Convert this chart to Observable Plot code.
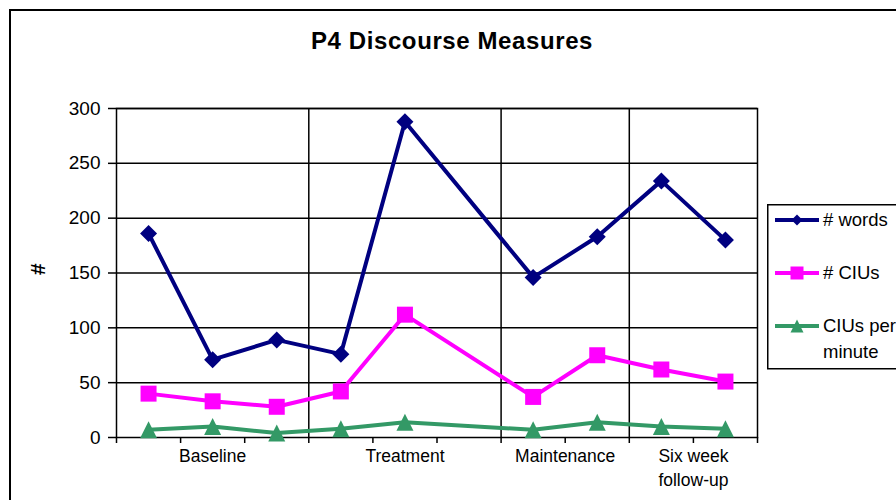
<!DOCTYPE html>
<html>
<head>
<meta charset="utf-8">
<script src="https://cdn.jsdelivr.net/npm/d3@7"></script>
<script src="https://cdn.jsdelivr.net/npm/@observablehq/plot@0.6"></script>
<style>
html, body { margin: 0; padding: 0; background: #fff; overflow: hidden; }
#wrap { position: relative; width: 896px; height: 500px; overflow: hidden; font-family: "Liberation Sans", Arial, sans-serif; color: #000; }
#border { position: absolute; left: 9px; top: 9px; width: 1000px; height: 600px; border: 2px solid #000; box-sizing: border-box; }
#title { position: absolute; left: 0; top: 29px; width: 904px; text-align: center; font-weight: bold; font-size: 24px; letter-spacing: 0.6px; line-height: 1; }
#chart { position: absolute; left: 0; top: 0; }
#legend { position: absolute; left: 767px; top: 204px; }
</style>
</head>
<body>
<div id="wrap">
  <div id="border"></div>
  <div id="title">P4 Discourse Measures</div>
  <div id="chart"></div>
  <div id="legend"></div>
</div>
<script>
// ---- data ----
const sessionCount = 10;
const phaseNames = ["Baseline", "Treatment", "Maintenance", "Six week\nfollow-up"];
const phaseSessions = [3, 3, 2, 2];
const words = [186, 71, 89, 76, 288, null, 146, 183, 234, 180];
const cius = [40, 33, 28, 42, 112, null, 37, 75, 62, 51];
const ciusPerMinute = [7, 10, 4, 8, 14, null, 7, 14, 10, 8];
const seriesNames = ["# words", "# CIUs", "CIUs per minute"];
const seriesColors = ["#000080", "#FF00FF", "#339966"];
const yTicks = [0, 50, 100, 150, 200, 250, 300];
const yLabel = "#";

// ---- derived tables ----
const seriesValues = [words, cius, ciusPerMinute];
const rows = [];
seriesValues.forEach((vals, s) => vals.forEach((v, i) => {
  if (v != null) rows.push({series: seriesNames[s], x: i + 0.5, y: v});
}));
const bounds = [0];
phaseSessions.forEach(n => bounds.push(bounds[bounds.length - 1] + n));
const phases = phaseNames.map((name, i) => ({name, mid: (bounds[i] + bounds[i + 1]) / 2}));
const innerBounds = bounds.slice(1, -1);

// ---- Excel-like marker shapes ----
const half = size => Math.sqrt(size / Math.PI);
const excelDiamond = {draw(ctx, size) { const h = half(size); ctx.moveTo(0, -h); ctx.lineTo(h, 0); ctx.lineTo(0, h); ctx.lineTo(-h, 0); ctx.closePath(); }};
const excelSquare = {draw(ctx, size) { const h = half(size); ctx.rect(-h, -h, 2 * h, 2 * h); }};
const excelTriangle = {draw(ctx, size) { const h = half(size); ctx.moveTo(0, -h); ctx.lineTo(h, h); ctx.lineTo(-h, h); ctx.closePath(); }};
const seriesSymbols = [excelDiamond, excelSquare, excelTriangle];
const seriesR = [8.5, 8, 8.5];

const seriesMarks = [];
seriesNames.forEach((name, s) => {
  const d = rows.filter(r => r.series === name);
  seriesMarks.push(Plot.line(d, {x: "x", y: "y", stroke: seriesColors[s], strokeWidth: 4, strokeLinejoin: "miter"}));
});
seriesNames.forEach((name, s) => {
  const d = rows.filter(r => r.series === name);
  seriesMarks.push(Plot.dot(d, {x: "x", y: "y", fill: seriesColors[s], stroke: "none", symbol: seriesSymbols[s], r: seriesR[s]}));
});

const chart = Plot.plot({
  width: 896,
  height: 500,
  marginLeft: 116,
  marginRight: 139,
  marginTop: 108,
  marginBottom: 63,
  style: {fontFamily: "'Liberation Sans', Arial, sans-serif", fontSize: "17px", color: "#000", background: "transparent", overflow: "visible"},
  x: {domain: [0, sessionCount]},
  y: {domain: [yTicks[0], yTicks[yTicks.length - 1]]},
  marks: [
    Plot.gridY(yTicks.slice(1), {stroke: "#000", strokeOpacity: 1, strokeWidth: 1.5}),
    Plot.ruleX(innerBounds, {y1: yTicks[0], y2: yTicks[yTicks.length - 1], stroke: "#000", strokeWidth: 1.5}),
    Plot.frame({stroke: "#000", strokeWidth: 1.5}),
    Plot.axisY({ticks: yTicks, tickSize: 8, tickPadding: 8, fontSize: 19, label: null, strokeWidth: 1.5}),
    Plot.axisX({ticks: d3.range(0, sessionCount + 1), tickSize: 6, tickFormat: () => "", label: null, strokeWidth: 1.5}),
    Plot.text(phases, {x: "mid", y: yTicks[0], text: "name", lineAnchor: "top", dy: 8, fontSize: 17.5, lineHeight: 1.35}),
    Plot.text([yLabel], {frameAnchor: "left", dx: -78, dy: 2, rotate: -90, fontWeight: "bold", fontSize: 21}),
    ...seriesMarks
  ]
});
document.getElementById("chart").appendChild(chart);

// ---- legend ----
const lg = d3.select("#legend").append("svg").attr("width", 140).attr("height", 170)
  .style("font-family", "'Liberation Sans', Arial, sans-serif").style("font-size", "18.5px");
lg.append("rect").attr("x", 0.75).attr("y", 0.75).attr("width", 200).attr("height", 164)
  .attr("fill", "#fff").attr("stroke", "#000").attr("stroke-width", 1.5);
const legendY = [16, 69, 122];
const legendSizes = [5.5, 6.5, 6.5];
seriesNames.forEach((name, s) => {
  const g = lg.append("g").attr("transform", `translate(0,${legendY[s]})`);
  g.append("line").attr("x1", 8).attr("x2", 52).attr("y1", 0).attr("y2", 0)
    .attr("stroke", seriesColors[s]).attr("stroke-width", 4);
  g.append("path").attr("transform", "translate(30,0)")
    .attr("d", d3.symbol(seriesSymbols[s], Math.PI * legendSizes[s] ** 2)())
    .attr("fill", seriesColors[s]);
  const words2 = name === "CIUs per minute" ? ["CIUs per", "minute"] : [name];
  words2.forEach((t, k) => g.append("text").attr("x", 56).attr("y", k * 26).attr("dy", "0.35em").text(t));
});
</script>
</body>
</html>
